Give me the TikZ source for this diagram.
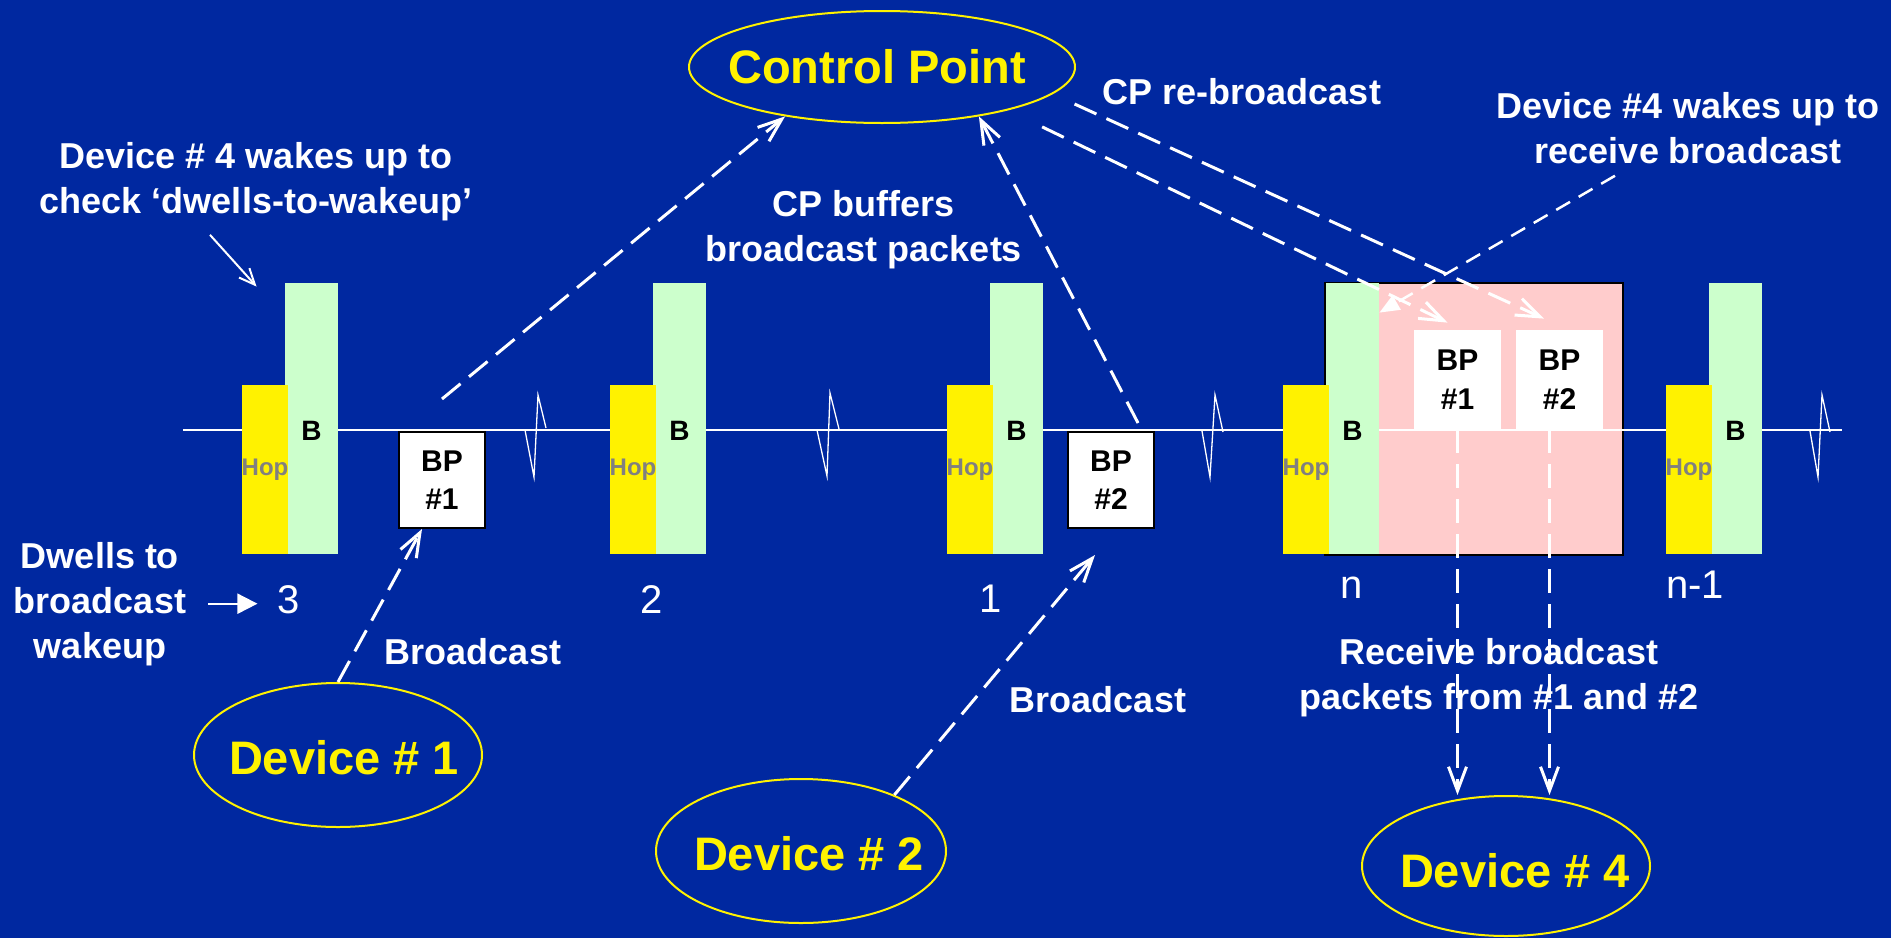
\documentclass[tikz,border=0pt]{standalone}
\usepackage{fontspec}
\setmainfont{Liberation Sans}
\usetikzlibrary{shapes.geometric,arrows.meta}
\definecolor{bg}{RGB}{0,40,160}
\definecolor{grn}{RGB}{204,255,204}
\definecolor{pnk}{RGB}{255,204,204}
\definecolor{hopgray}{RGB}{128,128,128}
\begin{document}
\begin{tikzpicture}[x=0.5pt,y=-0.5pt,
  lbl/.style={text=white,font=\bfseries\fontsize{18}{22.5}\selectfont,align=center,inner sep=0pt,anchor=base},
  ytxt/.style={text=yellow,font=\bfseries\fontsize{23.5}{28}\selectfont,inner sep=0pt,anchor=base},
  numlbl/.style={text=white,font=\fontsize{20}{24}\selectfont,inner sep=0pt,anchor=base},
  yell/.style={draw=yellow,line width=1pt,ellipse,inner sep=0pt},
  greenbar/.style={fill=grn,minimum width=26.5pt,minimum height=135.5pt,inner sep=0pt},
  hopbar/.style={fill=yellow,minimum width=23pt,minimum height=84.5pt,inner sep=0pt,text=hopgray,font=\bfseries\fontsize{12}{14}\selectfont},
  blbl/.style={text=black,font=\bfseries\fontsize{14}{16}\selectfont,inner sep=0pt,anchor=base},
  bpbox/.style={fill=white,draw=black,line width=1pt,minimum width=43pt,minimum height=48pt,inner sep=0pt,align=center,font=\bfseries\fontsize{15}{19}\selectfont},
  bpin/.style={fill=white,minimum width=43.5pt,minimum height=49.5pt,inner sep=0pt,align=center,font=\bfseries\fontsize{15}{19.5}\selectfont},
  darr/.style={draw=white,line width=1.5pt,dash pattern=on 12pt off 5.5pt,-{Straight Barb[length=12pt,width=9pt]}},
  sarr/.style={draw=white,line width=1pt},
  squig/.style={draw=white,line width=0.65pt},
]
\fill[bg] (0,0) rectangle (1891,938);
\useasboundingbox (0,0) rectangle (1891,938);

% pink receive window
\node[fill=pnk,draw=black,line width=0.75pt,minimum width=149pt,minimum height=136pt,inner sep=0pt] (pink) at (1474,419) {};

% timeline
\coordinate (tl0) at (183,430);
\coordinate (tl1) at (1842,430);
\draw[white,line width=1pt] (tl0) -- (tl1);

% buffered packets inside pink window
\node[bpin] (bp1p) at (1457.5,379.5) {BP\\\#1};
\node[bpin] (bp2p) at (1559.5,379.5) {BP\\\#2};

% beacon columns
\foreach \yl/\i in {242/1,610/2,947/3,1283/4,1666/5}{
  \node[greenbar] (g\i) at (\yl+69.5,418.5) {};
  \node[hopbar] (h\i) at (\yl+23,469.5) {Hop};
  \node[blbl] (b\i) at (\yl+69.5,440) {B};
}

% broadcast packets
\node[bpbox] (bp1) at (442,480) {BP\\\#1};
\node[bpbox] (bp2) at (1111,480) {BP\\\#2};

% squiggles
\draw[squig] (525,430) -- (534,477) -- (538,395) -- (546,428);
\draw[squig] (817,430) -- (827,476) -- (830,393) -- (839,429);
\draw[squig] (1202,431) -- (1210,477) -- (1215,395) -- (1223,432);
\draw[squig] (1810,431) -- (1818,477) -- (1822,395) -- (1830,432);

% dwell numbers
\node[numlbl] (n3) at (289,613) {3};
\node[numlbl] (n2) at (652,613) {2};
\node[numlbl] (n1) at (991,612) {1};
\node[numlbl] (nn) at (1352,598) {n};
\node[numlbl] (nm) at (1695,598) {n-1};

% ellipses
\node[yell,minimum width=193pt,minimum height=56pt] (cp) at (882,67) {};
\node[yell,minimum width=144pt,minimum height=72pt] (dev1) at (338,755) {};
\node[yell,minimum width=145pt,minimum height=72pt] (dev2) at (801,851) {};
\node[yell,minimum width=144pt,minimum height=70pt] (dev4) at (1506,866) {};
\node[ytxt] (cpt) at (877,83) {Control Point};
\node[ytxt] (d1t) at (344,774) {Device \# 1};
\node[ytxt] (d2t) at (809,870) {Device \# 2};
\node[ytxt] (d4t) at (1515,887) {Device \# 4};

% white labels (base = baseline of last line)
\node[lbl] (lw) at (256,213) {Device \# 4 wakes up to\\check ‘dwells-to-wakeup’};
\node[lbl] (cpb) at (864,261) {CP buffers\\broadcast packets};
\node[lbl] (cprb) at (1242,104) {CP re-broadcast};
\node[lbl] (d4w) at (1688,163) {Device \#4 wakes up to\\receive broadcast};
\node[lbl] (dwl) at (100,658) {Dwells to\\broadcast\\wakeup};
\node[lbl] (bc1) at (473,664) {Broadcast};
\node[lbl] (bc2) at (1098,712) {Broadcast};
\node[lbl] (rcv) at (1499,709) {Receive broadcast\\packets from \#1 and \#2};

% connectors
\draw[darr] (dev1.north) -- ([xshift=-10pt]bp1.south);
\draw[darr] ([yshift=16pt]bp1.north) -- (cp.207);
\draw[darr] ([xshift=13.5pt,yshift=4pt]bp2.north) -- (cp.333);
\draw[darr] (dev2.31) -- ([xshift=-8pt,yshift=-13pt]bp2.south);
\draw[darr,shorten <=19pt] (cp.-19) -- ([xshift=-5pt,yshift=3.5pt]bp1p.north);
\draw[darr,shorten <=12pt] (cp.-9.5) -- ([xshift=-7.75pt,yshift=5.5pt]bp2p.north);
\draw[darr] (bp1p.south) -- (bp1p.south |- dev4.north);
\draw[darr] ([xshift=-5pt]bp2p.south) -- ([xshift=-5pt]bp2p.south |- dev4.north);
\draw[white,line width=1.25pt,dash pattern=on 8pt off 5pt,-{Triangle[length=10pt,width=8pt]}] ([xshift=-36.5pt,yshift=-6pt]d4w.south) -- ([yshift=-15pt]g4.north east);
\draw[sarr,-{Straight Barb[length=8pt,width=7pt]}] ([xshift=-23pt,yshift=-7pt]lw.south) -- ([xshift=-14pt,yshift=-2pt]g1.north west);
\draw[sarr,-{Triangle[length=10pt,width=10pt]}] ([xshift=11pt]dwl.east) -- ([xshift=-10pt]n3.west |- dwl.east);
\end{tikzpicture}
\end{document}
